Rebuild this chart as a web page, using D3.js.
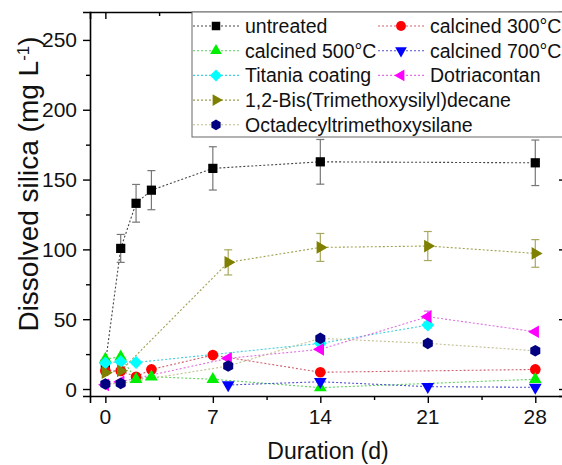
<!DOCTYPE html>
<html lang="en">
<head>
<meta charset="UTF-8">
<title>Dissolved silica</title>
<script src="https://d3js.org/d3.v7.min.js"></script>
<style>
    body { margin: 0; background: #fff; }
    svg { display: block; font-family: "Liberation Sans", Arial, sans-serif; }
    .tick-label { font-size: 21px; fill: #111; }
    .axis-title { font-size: 23px; fill: #111; }
    .legend-text { font-size: 19.5px; fill: #111; }
</style>
</head>
<body>
<div id="chart"></div>
<script>
// data (days, mg/L, error)
const seriesNames = ["untreated", "calcined 300°C", "calcined 500°C", "calcined 700°C",
    "Titania coating", "Dotriacontan", "1,2-Bis(Trimethoxysilyl)decane", "Octadecyltrimethoxysilane"];
const seriesColors = ["#000000", "#ff0000", "#00ee00", "#0000ff", "#00ffff", "#ff00ff", "#808000", "#000080"];
const lineColors = ["#444444", "#d06070", "#60d060", "#5050d0", "#40d0e0", "#e070e0", "#a0a050", "#c0c090"];
const seriesShapes = ["square", "circle", "triUp", "triDown", "diamond", "triLeft", "triRight", "hexagon"];

const dUntreated = [0, 1, 2, 3, 7, 14, 28];
const vUntreated = [18, 100.7, 133, 142.4, 158, 162.7, 162];
const eUntreated = [2, 10, 13.5, 14, 15.5, 16, 16.3];

const d300 = [0, 1, 2, 3, 7, 14, 28];
const v300 = [13, 13, 8.8, 14, 24.3, 12, 14];
const e300 = [0, 0, 0, 0, 0, 0, 0];

const d500 = [0, 1, 2, 3, 7, 14, 28];
const v500 = [21.5, 23, 7, 8.8, 7, 1, 7];
const e500 = [0, 0, 0, 0, 0, 0, 0];

const d700 = [8, 14, 21, 28];
const v700 = [2.9, 5.2, 1.7, 1.2];
const e700 = [0, 0, 0, 0];

const dTitania = [0, 1, 2, 14, 21];
const vTitania = [18.6, 19.6, 19, 32.7, 45.8];
const eTitania = [1, 1.5, 0, 1, 2];

const dDotria = [0, 1, 8, 14, 21, 28];
const vDotria = [3, 5.2, 22, 28.4, 51.8, 41];
const eDotria = [0, 0, 0, 0, 4, 0];

const dBis = [0, 1, 8, 14, 21, 28];
const vBis = [11.7, 13, 90.7, 101.4, 102.4, 97.1];
const eBis = [0, 0, 9, 10, 10.4, 9.9];

const dOctadecyl = [0, 1, 8, 14, 21, 28];
const vOctadecyl = [3.6, 4, 16.5, 36.3, 32.7, 27.4];
const eOctadecyl = [0, 0, 0, 2, 0, 0];

const xTicks = [0, 7, 14, 21, 28];
const yTicks = [0, 50, 100, 150, 200, 250];

const allDays = [dUntreated, d300, d500, d700, dTitania, dDotria, dBis, dOctadecyl];
const allVals = [vUntreated, v300, v500, v700, vTitania, vDotria, vBis, vOctadecyl];
const allErrs = [eUntreated, e300, e500, e700, eTitania, eDotria, eBis, eOctadecyl];

const series = seriesNames.map((name, i) => ({
    name, color: seriesColors[i], lineColor: lineColors[i], shape: seriesShapes[i],
    points: allDays[i].map((d, j) => ({ day: d, val: allVals[i][j], err: allErrs[i][j] }))
}));

const W = 562, H = 465;
const plot = { left: 90, right: 566, top: 12, bottom: 396 };

const svg = d3.select("#chart").append("svg").attr("width", W).attr("height", H);

const x = d3.scaleLinear().domain([-1, 30]).range([plot.left, plot.right]);
const y = d3.scaleLinear().domain([-5, 270]).range([plot.bottom, plot.top]);

// marker shapes
function hexPath(r) {
    const pts = d3.range(6).map(k => {
        const a = Math.PI / 6 + k * Math.PI / 3;
        return [r * Math.cos(a), r * Math.sin(a)];
    });
    return "M" + pts.map(p => p.join(",")).join("L") + "Z";
}
function shapePath(shape, scale) {
    const s = scale || 1;
    switch (shape) {
        case "square": return d3.symbol(d3.symbolSquare, 85 * s)();
        case "circle": return d3.symbol(d3.symbolCircle, 90 * s)();
        case "diamond": return d3.symbol(d3.symbolSquare, 85 * s)();
        case "hexagon": return hexPath(5.8 * Math.sqrt(s));
        default: return d3.symbol(d3.symbolTriangle, 70 * s)();
    }
}
function shapeRot(shape) {
    return { diamond: 45, triDown: 180, triLeft: -90, triRight: 90 }[shape] || 0;
}

// axes
const minorX = d3.range(0, 30, 3.5).filter(v => v % 7 !== 0);
const axisBottom = d3.axisBottom(x).tickValues(xTicks).tickSize(7).tickFormat("");
const axisBottomMinor = d3.axisBottom(x).tickValues(minorX).tickSize(4).tickFormat("");
const axisLeft = d3.axisLeft(y).tickValues(yTicks).tickSize(7).tickFormat("");
const axisLeftMinor = d3.axisLeft(y).tickValues(d3.range(25, 270, 50)).tickSize(4).tickFormat("");
const axisTop = d3.axisBottom(x).tickValues(xTicks).tickSize(7).tickFormat("");
const axisTopMinor = d3.axisBottom(x).tickValues(minorX).tickSize(4).tickFormat("");
const axisRight = d3.axisLeft(y).tickValues(yTicks).tickSize(7).tickFormat("");

function styleAxis(g) {
    g.select(".domain").attr("stroke", "#000").attr("stroke-width", 1.6);
    g.selectAll(".tick line").attr("stroke", "#000").attr("stroke-width", 1.4);
}

svg.append("g").attr("transform", `translate(0,${plot.bottom})`).call(axisBottom).call(styleAxis);
svg.append("g").attr("transform", `translate(0,${plot.bottom})`).call(axisBottomMinor).call(styleAxis).select(".domain").remove();
svg.append("g").attr("transform", `translate(${plot.left},0)`).call(axisLeft).call(styleAxis);
svg.append("g").attr("transform", `translate(${plot.left},0)`).call(axisLeftMinor).call(styleAxis).select(".domain").remove();
svg.append("g").attr("transform", `translate(0,${plot.top})`).call(axisTop).call(styleAxis);
svg.append("g").attr("transform", `translate(0,${plot.top})`).call(axisTopMinor).call(styleAxis).select(".domain").remove();
svg.append("g").attr("transform", `translate(${plot.right},0)`).call(axisRight).call(styleAxis);

// tick labels
svg.append("g").selectAll("text").data(xTicks).join("text")
    .attr("class", "tick-label").attr("x", d => x(d)).attr("y", 424)
    .attr("text-anchor", "middle").text(d => d);
svg.append("g").selectAll("text").data(yTicks).join("text")
    .attr("class", "tick-label").attr("x", 77).attr("y", d => y(d) + 7.5)
    .attr("text-anchor", "end").text(d => d);

// axis titles
svg.append("text").attr("class", "axis-title").attr("x", 328).attr("y", 459)
    .attr("text-anchor", "middle").text("Duration (d)");
const yt = svg.append("text").attr("class", "axis-title")
    .attr("transform", "translate(38,184) rotate(-90)").attr("text-anchor", "middle")
    .style("font-size", "28px");
yt.append("tspan").text("Dissolved silica (mg L");
yt.append("tspan").attr("baseline-shift", "super").style("font-size", "17px").text("-1");
yt.append("tspan").text(")");

// lines
const line = d3.line().x(d => x(d.day)).y(d => y(d.val));
const plotG = svg.append("g");
series.forEach(s => {
    plotG.append("path").datum(s.points).attr("d", line)
        .attr("fill", "none").attr("stroke", s.lineColor).attr("stroke-width", 1.1)
        .attr("stroke-dasharray", "2,2");
});

// error bars
series.forEach((s, i) => {
    const barColor = i === 0 ? "#777" : (i === 6 ? "#a8a860" : s.lineColor);
    const eb = plotG.append("g").attr("stroke", barColor).attr("stroke-width", 1.2);
    s.points.filter(p => p.err > 0).forEach(p => {
        const cx = x(p.day), y1 = y(p.val + p.err), y2 = y(p.val - p.err);
        eb.append("line").attr("x1", cx).attr("x2", cx).attr("y1", y1).attr("y2", y2);
        eb.append("line").attr("x1", cx - 4).attr("x2", cx + 4).attr("y1", y1).attr("y2", y1);
        eb.append("line").attr("x1", cx - 4).attr("x2", cx + 4).attr("y1", y2).attr("y2", y2);
    });
});

// markers
series.forEach(s => {
    plotG.append("g").selectAll("path").data(s.points).join("path")
        .attr("d", shapePath(s.shape))
        .attr("transform", d => `translate(${x(d.day)},${y(d.val)}) rotate(${shapeRot(s.shape)})`)
        .attr("fill", s.color);
});

// legend
const legend = svg.append("g");
legend.append("rect").attr("x", 192).attr("y", plot.top).attr("width", 380).attr("height", 125)
    .attr("fill", "#fff").attr("stroke", "#666").attr("stroke-width", 1);
const legendPos = [[0, 0], [1, 0], [0, 1], [1, 1], [0, 2], [1, 2], [0, 3], [0, 4]];
const colX = [193, 378];
series.forEach((s, i) => {
    const [c, r] = legendPos[i];
    const lx = colX[c], ly = 26 + r * 24.7;
    const g = legend.append("g");
    g.append("line").attr("x1", lx).attr("x2", lx + 46).attr("y1", ly).attr("y2", ly)
        .attr("stroke", s.lineColor).attr("stroke-width", 1.1).attr("stroke-dasharray", "2,2");
    g.append("path").attr("d", shapePath(s.shape, 0.85))
        .attr("transform", `translate(${lx + 23},${ly}) rotate(${shapeRot(s.shape)})`)
        .attr("fill", s.color);
    g.append("text").attr("class", "legend-text").attr("x", lx + 52).attr("y", ly + 7)
        .text(s.name);
});
</script>
</body>
</html>
